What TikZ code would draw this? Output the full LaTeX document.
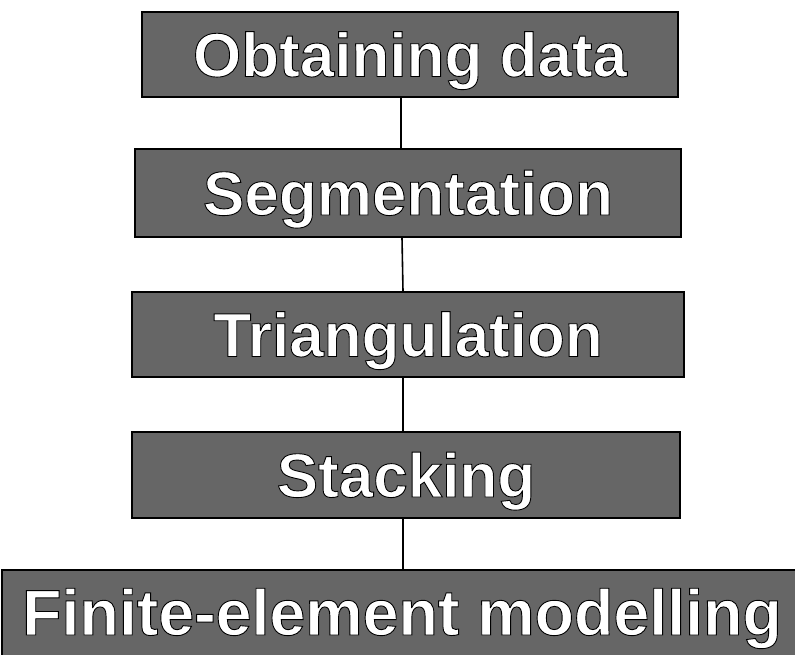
\documentclass[tikz,border=0pt]{standalone}
\usepackage{fontspec}
\setmainfont{Liberation Sans}
\definecolor{boxgray}{rgb}{0.40,0.40,0.40}
\newcommand{\outl}[1]{\special{pdf:literal direct 2 Tr 0 G 0.9 w}#1\special{pdf:literal direct 0 Tr}}
\tikzset{
  stepbox/.style={draw=black, line width=1.4pt, fill=boxgray, text=white,
    inner sep=0pt, text height=44pt, text depth=0pt,
    font=\fontsize{62}{62}\selectfont\bfseries},
  link/.style={draw=black, line width=1.6pt}
}
\begin{document}
\begin{tikzpicture}[x=1pt,y=-1pt]
\useasboundingbox (0,0) rectangle (795,654);
\node[stepbox, minimum width=536pt, minimum height=85pt] (b1) at (410,54.5) {\outl{Obtaining data}};
\node[stepbox, minimum width=546pt, minimum height=88pt] (b2) at (408,193) {\outl{Segmentation}};
\node[stepbox, minimum width=552pt, minimum height=85pt] (b3) at (408,334.5) {\outl{Triangulation}};
\node[stepbox, minimum width=548pt, minimum height=86pt] (b4) at (406,475) {\outl{Stacking}};
\node[stepbox, minimum width=800pt, minimum height=86pt, font=\fontsize{64.5}{64.5}\selectfont\bfseries] (b5) at (402,613) {\outl{Finite-element modelling}};
\draw[link] ([xshift=-9pt]b1.south) -- ([xshift=-7pt]b2.north);
\draw[link] ([xshift=-6pt]b2.south) -- ([xshift=-5pt]b3.north);
\draw[link] ([xshift=-5pt]b3.south) -- ([xshift=-3pt]b4.north);
\draw[link] ([xshift=-3pt]b4.south) -- ([xshift=1pt]b5.north);
\end{tikzpicture}
\end{document}
